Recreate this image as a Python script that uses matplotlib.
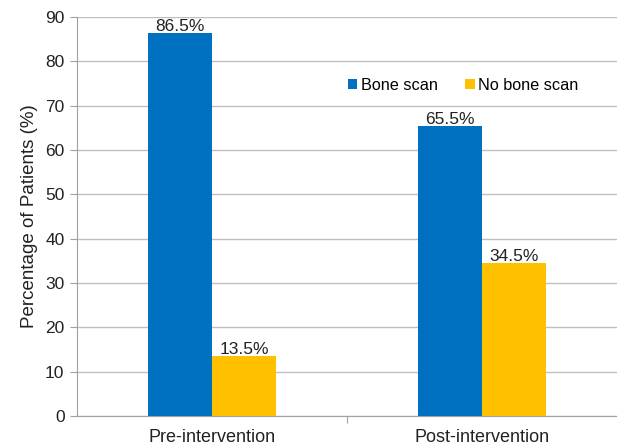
import numpy as np
import matplotlib.pyplot as plt

plt.rcParams['font.family'] = ['Liberation Sans', 'DejaVu Sans']

categories = ['Pre-intervention', 'Post-intervention']
bone_scan = [86.5, 65.5]
no_bone_scan = [13.5, 34.5]
series_names = ['Bone scan', 'No bone scan']
colors = ['#0070C0', '#FFC000']

fig = plt.figure(figsize=(6.17, 4.46), dpi=100)
ax = fig.add_axes([77 / 617, 30 / 446, 540 / 617, 399 / 446])

x = np.arange(len(categories))
w = 0.237
for off, vals, name, c in [(-w / 2, bone_scan, series_names[0], colors[0]),
                           (w / 2, no_bone_scan, series_names[1], colors[1])]:
    bars = ax.bar(x + off, vals, w, color=c, label=name, zorder=3)
    for b, v in zip(bars, vals):
        ax.text(b.get_x() + b.get_width() / 2, v - 0.3, f'{v}%', ha='center', va='bottom',
                fontsize=12.5, color='#222222')

ax.set_xlim(-0.5, 1.5)
ax.set_ylim(0, 90)
ax.set_yticks(range(0, 91, 10))
ax.yaxis.grid(True, color='#BFBFBF', linewidth=1, zorder=0)
ax.tick_params(axis='y', labelsize=12.5, length=5, color='#A0A0A0', pad=4, labelcolor='#222222')

# category labels between ticks
ax.set_xticks([0.5])
ax.set_xticklabels([''])
ax.set_xticks(x, minor=True)
ax.set_xticklabels(categories, minor=True)
ax.tick_params(axis='x', which='major', length=5, color='#A0A0A0')
ax.tick_params(axis='x', which='minor', length=0, labelsize=13, pad=9, labelcolor='#222222')

for s in ['top', 'right']:
    ax.spines[s].set_visible(False)
for s in ['left', 'bottom']:
    ax.spines[s].set_color('#A0A0A0')

ax.set_ylabel('Percentage of Patients (%)', fontsize=13.5, color='#222222', labelpad=5)

ax.legend(loc='upper left', bbox_to_anchor=(0.474, 0.885), ncol=2, frameon=False,
          fontsize=11.7, handlelength=0.6, handleheight=0.6, handletextpad=0.2,
          columnspacing=1.7)

fig.savefig('out.png', dpi=100)
